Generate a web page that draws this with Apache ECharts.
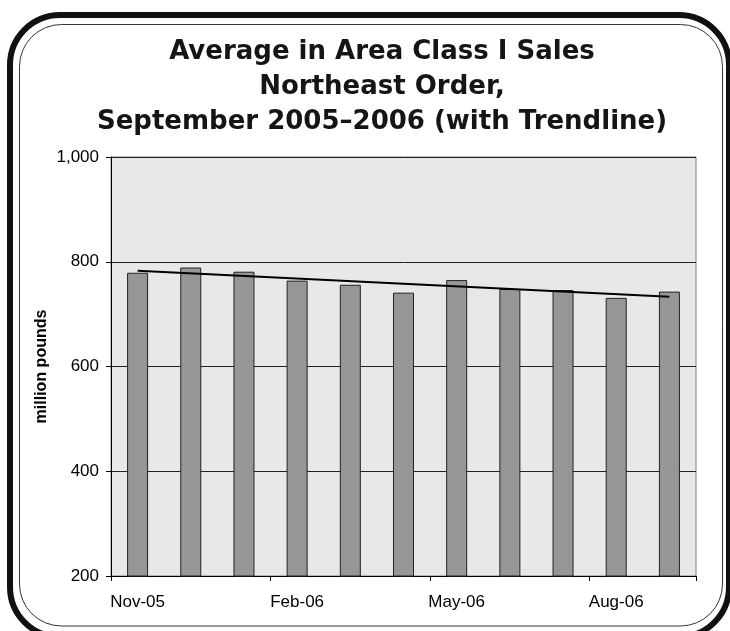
<!DOCTYPE html>
<html>
<head>
<meta charset="utf-8">
<script src="https://cdn.jsdelivr.net/npm/echarts@6/dist/echarts.min.js"></script>
<style>
html,body{margin:0;padding:0;background:#fff;}
#chart{width:730px;height:631px;}
</style>
</head>
<body>
<div id="chart"></div>
<script>
const categories = ['Nov-05','Dec-05','Jan-06','Feb-06','Mar-06','Apr-06','May-06','Jun-06','Jul-06','Aug-06','Sep-06'];
const salesValues = [779, 789, 781, 764, 756, 741, 765, 748, 746, 731, 743];
const trendValues = [783, 733];
const yTicks = [200, 400, 600, 800, 1000];
const titleText = 'Average in Area Class I Sales\nNortheast Order,\nSeptember 2005\u20132006 (with Trendline)';
const yAxisName = 'million pounds';

const chart = echarts.init(document.getElementById('chart'), null, {renderer: 'canvas'});
const option = {
  animation: false,
  backgroundColor: '#ffffff',
  title: {
    text: titleText,
    left: 377,
    top: 30,
    textAlign: 'center',
    textStyle: {
      fontFamily: 'DejaVu Sans',
      fontWeight: 'bold',
      fontSize: 26,
      lineHeight: 35,
      color: '#151515'
    }
  },
  graphic: [
    {
      type: 'rect', z: -10, silent: true,
      shape: {x: 10, y: 15, width: 719, height: 622, r: 50},
      style: {fill: 'none', stroke: '#111', lineWidth: 6}
    },
    {
      type: 'rect', z: -10, silent: true,
      shape: {x: 19.5, y: 24.5, width: 703, height: 601.5, r: 42},
      style: {fill: 'none', stroke: '#333', lineWidth: 1}
    }
  ],
  grid: {
    left: 111, right: 34, top: 157, bottom: 55,
    show: true,
    backgroundColor: '#e8e8e8',
    borderColor: '#808080',
    borderWidth: 1
  },
  xAxis: {
    type: 'category',
    data: categories,
    boundaryGap: true,
    axisLine: {lineStyle: {color: '#000', width: 1}},
    axisTick: {show: true, interval: 2, length: 5, lineStyle: {color: '#000'}},
    axisLabel: {
      interval: 2, margin: 18, color: '#000',
      fontFamily: 'Liberation Sans, Arial', fontSize: 17
    },
    splitLine: {show: false}
  },
  yAxis: {
    type: 'value',
    min: yTicks[0],
    max: yTicks[yTicks.length - 1],
    interval: 200,
    name: yAxisName,
    nameLocation: 'middle',
    nameRotate: 90,
    nameGap: 61,
    nameMoveOverlap: false,
    nameTextStyle: {
      fontFamily: 'Liberation Sans, Arial', fontWeight: 'bold',
      fontSize: 16, color: '#000'
    },
    axisLine: {show: true, lineStyle: {color: '#000', width: 1}},
    axisTick: {show: true, length: 5, lineStyle: {color: '#000'}},
    axisLabel: {
      margin: 12, color: '#000',
      fontFamily: 'Liberation Sans, Arial', fontSize: 17,
      formatter: v => v.toLocaleString('en-US')
    },
    splitLine: {show: true, lineStyle: {color: '#222', width: 1}}
  },
  series: [
    {
      type: 'bar',
      data: salesValues,
      barWidth: 21,
      itemStyle: {color: '#969696', borderColor: '#222', borderWidth: 1}
    },
    {
      type: 'line',
      data: [[categories[0], trendValues[0]], [categories[categories.length - 1], trendValues[1]]],
      symbol: 'none',
      lineStyle: {color: '#000', width: 2},
      z: 5
    }
  ]
};
chart.setOption(option);
</script>
</body>
</html>
